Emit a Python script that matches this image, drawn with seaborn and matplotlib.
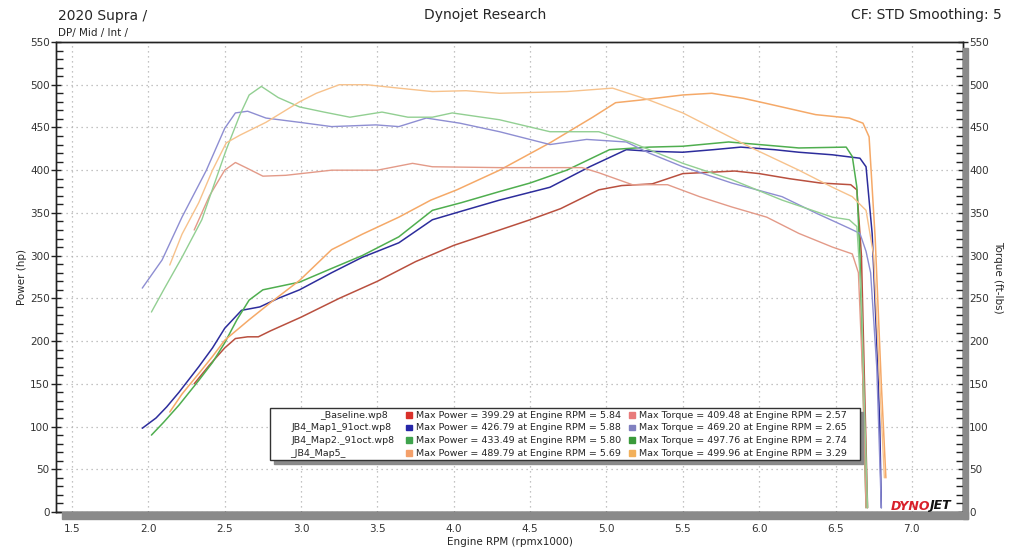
import numpy as np
import pandas as pd
import matplotlib
matplotlib.use("Agg")
import matplotlib.pyplot as plt
from matplotlib.patches import Rectangle
import seaborn as sns

# runs and readings (rpm x1000, hp / ft-lbs)
runs = ["_Baseline.wp8", "JB4_Map1_91oct.wp8", "JB4_Map2._91oct.wp8", "_JB4_Map5_"]

base_hp_rpm = [2.30, 2.40, 2.50, 2.57, 2.65, 2.72, 2.80, 3.00, 3.25, 3.50, 3.75, 4.00, 4.30, 4.50, 4.70,
               4.95, 5.10, 5.30, 5.50, 5.84, 6.00, 6.20, 6.40, 6.60, 6.64, 6.67, 6.69, 6.71]
base_hp = [150, 172, 192, 203, 205, 205, 212, 228, 250, 270, 293, 312, 330, 342, 355,
           377, 382, 384, 396, 399, 396, 390, 385, 383, 377, 300, 150, 5]
base_tq_rpm = [2.30, 2.40, 2.50, 2.57, 2.65, 2.75, 2.90, 3.20, 3.50, 3.73, 3.86, 4.30, 4.60, 4.84, 4.95,
               5.17, 5.40, 5.61, 5.82, 6.05, 6.26, 6.48, 6.61, 6.65, 6.68, 6.70]
base_tq = [330, 370, 400, 409, 402, 393, 394, 400, 400, 408, 404, 403, 403, 403, 397,
           383, 383, 369, 357, 345, 326, 310, 302, 280, 150, 5]

map1_hp_rpm = [1.96, 2.05, 2.12, 2.20, 2.33, 2.42, 2.50, 2.61, 2.73, 2.85, 2.99, 3.20, 3.40, 3.64, 3.86,
               4.05, 4.30, 4.63, 4.89, 5.13, 5.30, 5.50, 5.70, 5.88, 6.10, 6.26, 6.48, 6.66, 6.70, 6.74,
               6.77, 6.79, 6.80]
map1_hp = [98, 110, 123, 140, 170, 192, 215, 236, 240, 250, 260, 280, 298, 315, 342,
           352, 365, 380, 404, 424, 422, 421, 424, 427, 424, 421, 418, 414, 404, 326,
           200, 100, 5]
map1_tq_rpm = [1.96, 2.09, 2.22, 2.38, 2.50, 2.57, 2.65, 2.77, 2.99, 3.20, 3.49, 3.64, 3.82, 4.04, 4.30,
               4.63, 4.87, 5.13, 5.28, 5.50, 5.82, 6.15, 6.37, 6.59, 6.66, 6.70, 6.73, 6.77, 6.80]
map1_tq = [262, 295, 345, 400, 449, 467, 469, 461, 456, 451, 453, 451, 461, 455, 445,
           430, 436, 433, 420, 404, 385, 369, 350, 332, 326, 305, 280, 170, 5]

map2_hp_rpm = [2.02, 2.10, 2.20, 2.33, 2.42, 2.50, 2.58, 2.66, 2.75, 2.99, 3.20, 3.40, 3.64, 3.86, 4.05,
               4.30, 4.50, 4.74, 5.02, 5.28, 5.50, 5.80, 6.00, 6.26, 6.57, 6.61, 6.64, 6.66, 6.68, 6.70]
map2_hp = [90, 105, 125, 154, 175, 198, 225, 248, 260, 269, 285, 300, 322, 353, 362,
           375, 385, 400, 424, 427, 428, 433, 430, 426, 427, 416, 380, 300, 150, 5]
map2_tq_rpm = [2.02, 2.10, 2.22, 2.35, 2.51, 2.60, 2.66, 2.74, 2.85, 2.99, 3.15, 3.32, 3.53, 3.70, 3.86,
               3.99, 4.30, 4.63, 4.95, 5.17, 5.50, 5.82, 6.15, 6.48, 6.59, 6.64, 6.67, 6.69, 6.71]
map2_tq = [234, 260, 298, 342, 424, 465, 488, 498, 485, 474, 468, 462, 468, 462, 462,
           467, 459, 445, 445, 432, 408, 389, 365, 345, 342, 334, 250, 120, 5]

map5_hp_rpm = [2.14, 2.22, 2.33, 2.42, 2.50, 2.66, 2.80, 2.99, 3.20, 3.40, 3.64, 3.85, 4.02, 4.30, 4.63,
               4.91, 5.06, 5.22, 5.50, 5.69, 5.90, 6.05, 6.37, 6.59, 6.68, 6.72, 6.76, 6.80, 6.83]
map5_hp = [117, 138, 162, 182, 201, 225, 245, 271, 307, 325, 345, 365, 377, 400, 432,
           462, 479, 482, 488, 490, 484, 478, 465, 461, 455, 439, 320, 150, 40]
map5_tq_rpm = [2.14, 2.22, 2.33, 2.42, 2.51, 2.60, 2.77, 2.99, 3.10, 3.25, 3.43, 3.64, 3.86, 4.08, 4.30,
               4.74, 5.04, 5.28, 5.50, 5.72, 5.94, 6.26, 6.48, 6.61, 6.70, 6.75, 6.79, 6.82]
map5_tq = [289, 325, 362, 400, 432, 441, 456, 480, 490, 500, 500, 496, 492, 493, 490,
           492, 496, 482, 467, 447, 427, 400, 380, 369, 353, 300, 150, 40]

# summary numbers for the legend box
max_power = [399.29, 426.79, 433.49, 489.79]
max_power_rpm = [5.84, 5.88, 5.80, 5.69]
max_torque = [409.48, 469.20, 497.76, 499.96]
max_torque_rpm = [2.57, 2.65, 2.74, 3.29]

power_colors = ["#b9503f", "#2d2d9c", "#4fae4f", "#f5a968"]
torque_colors = ["#e39a88", "#8e8ed2", "#92cf92", "#f7c28c"]
power_marks = ["#d9302a", "#2626a8", "#3fa34d", "#f4a06a"]
torque_marks = ["#e87a7a", "#8080c0", "#3a9a3a", "#f2b05a"]

hp_rpm = [base_hp_rpm, map1_hp_rpm, map2_hp_rpm, map5_hp_rpm]
hp_vals = [base_hp, map1_hp, map2_hp, map5_hp]
tq_rpm = [base_tq_rpm, map1_tq_rpm, map2_tq_rpm, map5_tq_rpm]
tq_vals = [base_tq, map1_tq, map2_tq, map5_tq]

power_df = pd.concat([pd.DataFrame({"rpm": r, "val": v, "run": n})
                      for r, v, n in zip(hp_rpm, hp_vals, runs)])
torque_df = pd.concat([pd.DataFrame({"rpm": r, "val": v, "run": n})
                       for r, v, n in zip(tq_rpm, tq_vals, runs)])

sns.set_style("white")
plt.rcParams["font.family"] = ["DejaVu Sans"]

fig = plt.figure(figsize=(10.25, 5.47), dpi=100)
ax = fig.add_axes([56 / 1025, 35 / 547, (963 - 56) / 1025, (512 - 42) / 547])
ax2 = ax.twinx()

sns.lineplot(data=torque_df, x="rpm", y="val", hue="run", palette=torque_colors, hue_order=runs,
             estimator=None, sort=False, legend=False, lw=1.0, ax=ax2)
sns.lineplot(data=power_df, x="rpm", y="val", hue="run", palette=power_colors, hue_order=runs,
             estimator=None, sort=False, legend=False, lw=1.1, ax=ax)

for a in (ax, ax2):
    a.set_xlim(1.395, 7.335)
    a.set_ylim(0, 550)
    a.set_yticks(np.arange(0, 551, 50))
    a.set_yticks(np.arange(0, 551, 10), minor=True)
    for s in a.spines.values():
        s.set_color("#222222")
        s.set_linewidth(1.0)
    a.tick_params(which="major", direction="inout", length=7, width=1, color="#222222",
                  labelsize=7.5, labelcolor="#333333", pad=1)
    a.tick_params(which="minor", direction="in", length=5, width=1, color="#222222")

ax.set_xticks(np.arange(1.5, 7.01, 0.5))
ax.set_xticks(np.arange(1.5, 7.21, 0.1), minor=True)
ax.set_xticklabels([f"{t:.1f}" for t in np.arange(1.5, 7.01, 0.5)])
ax.tick_params(axis="x", which="major", pad=5)
ax.grid(True, which="major", color="#b0b0b0", linestyle=(0, (1, 3)), linewidth=0.9)
ax.set_axisbelow(True)

ax.set_xlabel("Engine RPM (rpmx1000)", fontsize=7.5, labelpad=2)
ax.set_ylabel("Power (hp)", fontsize=7.5, labelpad=2)
ax2.set_ylabel("Torque (ft-lbs)", fontsize=7.5, rotation=270, labelpad=10)

# grey bands along the bottom and right axes
fig.patches.append(Rectangle((62 / 1025, 28 / 547), (968 - 62) / 1025, 7 / 547,
                             transform=fig.transFigure, color="#8a8a8a", zorder=0))
fig.patches.append(Rectangle((963 / 1025, 28 / 547), 5 / 1025, (499 - 28) / 547,
                             transform=fig.transFigure, color="#8a8a8a", zorder=0))

# header texts
fig.text(58 / 1025, 1 - 16 / 547, "2020 Supra /", fontsize=10, va="center", ha="left")
fig.text(58 / 1025, 1 - 33 / 547, "DP/ Mid / Int /", fontsize=7.5, va="center", ha="left")
fig.text(485 / 1025, 1 - 15 / 547, "Dynojet Research", fontsize=10, va="center", ha="center")
fig.text(1002 / 1025, 1 - 15 / 547, "CF: STD Smoothing: 5", fontsize=10, va="center", ha="right")

# logo
fig.text(891 / 1025, 1 - 506 / 547, "DYNO", fontsize=9, color="#d8202a", fontweight="bold",
         fontstyle="italic", va="center", ha="left")
fig.text(929 / 1025, 1 - 506 / 547, "JET", fontsize=9, color="#111111", fontweight="bold",
         fontstyle="italic", va="center", ha="left")

# legend box with run summaries
fig.patches.append(Rectangle((274 / 1025, 1 - 464 / 547), (863 - 274) / 1025, (464 - 412) / 547,
                             transform=fig.transFigure, color="#8a8a8a", zorder=3))
fig.patches.append(Rectangle((270 / 1025, 1 - 460 / 547), (860 - 270) / 1025, (460 - 408) / 547,
                             transform=fig.transFigure, facecolor="white", edgecolor="#333333",
                             lw=1, zorder=4))
name_x = [320, 292, 292, 290]
for i, run in enumerate(runs):
    y = 1 - (415 + i * 12.7) / 547
    fig.text(name_x[i] / 1025, y, run, fontsize=6.8, va="center", ha="left", zorder=5)
    fig.patches.append(Rectangle((406 / 1025, y - 2.5 / 547), 5.5 / 1025, 5.5 / 547,
                                 transform=fig.transFigure, color=power_marks[i], zorder=5))
    fig.text(416 / 1025, y, f"Max Power = {max_power[i]:.2f} at Engine RPM = {max_power_rpm[i]:.2f}",
             fontsize=6.8, va="center", ha="left", zorder=5)
    fig.patches.append(Rectangle((629 / 1025, y - 2.5 / 547), 5.5 / 1025, 5.5 / 547,
                                 transform=fig.transFigure, color=torque_marks[i], zorder=5))
    fig.text(639 / 1025, y, f"Max Torque = {max_torque[i]:.2f} at Engine RPM = {max_torque_rpm[i]:.2f}",
             fontsize=6.8, va="center", ha="left", zorder=5)

fig.savefig("out.png", dpi=100)
